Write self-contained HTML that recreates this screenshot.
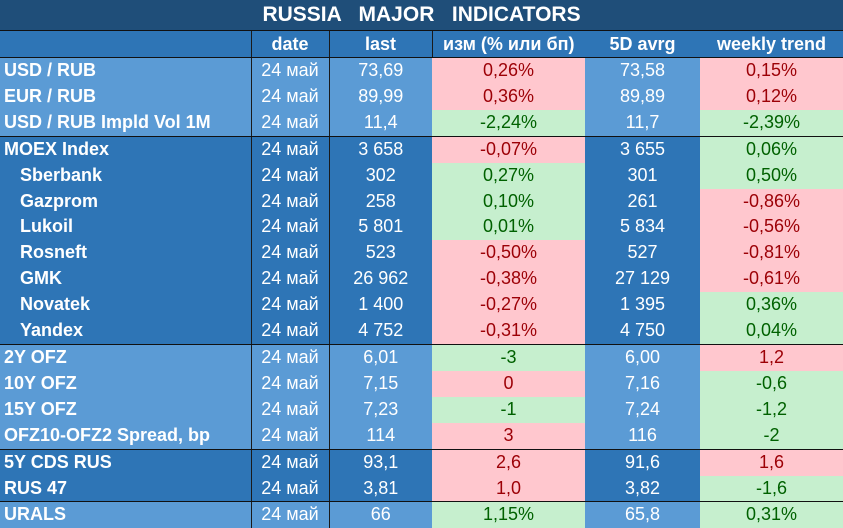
<!DOCTYPE html>
<html><head><meta charset="utf-8"><style>
body{margin:0;width:843px;height:524px;overflow:hidden;background:#fff;font-family:"Liberation Sans",sans-serif}
table{border-collapse:collapse;table-layout:fixed;width:843px;position:absolute;left:0;top:0}
td{padding:0;color:#fff;font-size:18px;text-align:center;white-space:nowrap;overflow:hidden;height:25.9px;line-height:25.9px}
td.l{text-align:left;font-weight:bold;padding-left:4px}
td.i{padding-left:20px}
td.d{border-left:1px solid #1a1a1a}
.t td{background:#1f4e79;font-weight:bold;font-size:21px;height:30px;line-height:30px;white-space:pre;border-bottom:1px solid #111}
.h td{background:#2e75b6;font-weight:bold;height:26px;line-height:26px;border-bottom:1px solid #111}
.a td{background:#5b9bd5}.b td{background:#2e75b6}
tr.e td{border-bottom:1.5px solid #111}
td.r{background:#ffc7ce!important;color:#9c0006}
td.g{background:#c6efce!important;color:#006100}
</style></head><body>
<table>
<colgroup><col style="width:251px"><col style="width:78px"><col style="width:103px"><col style="width:153px"><col style="width:115px"><col style="width:143px"></colgroup>
<tr class="t"><td colspan="6" style="padding-left:0">RUSSIA   MAJOR   INDICATORS</td></tr>
<tr class="h"><td></td><td class="d">date</td><td class="d">last</td><td class="d">изм (% или бп)</td><td>5D avrg</td><td>weekly trend</td></tr>
<tr class="a"><td class="l">USD / RUB</td><td class="d">24 май</td><td class="d">73,69</td><td class="r">0,26%</td><td>73,58</td><td class="r">0,15%</td></tr>
<tr class="a"><td class="l">EUR / RUB</td><td class="d">24 май</td><td class="d">89,99</td><td class="r">0,36%</td><td>89,89</td><td class="r">0,12%</td></tr>
<tr class="a e"><td class="l">USD / RUB Impld Vol 1M</td><td class="d">24 май</td><td class="d">11,4</td><td class="g">-2,24%</td><td>11,7</td><td class="g">-2,39%</td></tr>
<tr class="b"><td class="l">MOEX Index</td><td class="d">24 май</td><td class="d">3 658</td><td class="r">-0,07%</td><td>3 655</td><td class="g">0,06%</td></tr>
<tr class="b"><td class="l i">Sberbank</td><td class="d">24 май</td><td class="d">302</td><td class="g">0,27%</td><td>301</td><td class="g">0,50%</td></tr>
<tr class="b"><td class="l i">Gazprom</td><td class="d">24 май</td><td class="d">258</td><td class="g">0,10%</td><td>261</td><td class="r">-0,86%</td></tr>
<tr class="b"><td class="l i">Lukoil</td><td class="d">24 май</td><td class="d">5 801</td><td class="g">0,01%</td><td>5 834</td><td class="r">-0,56%</td></tr>
<tr class="b"><td class="l i">Rosneft</td><td class="d">24 май</td><td class="d">523</td><td class="r">-0,50%</td><td>527</td><td class="r">-0,81%</td></tr>
<tr class="b"><td class="l i">GMK</td><td class="d">24 май</td><td class="d">26 962</td><td class="r">-0,38%</td><td>27 129</td><td class="r">-0,61%</td></tr>
<tr class="b"><td class="l i">Novatek</td><td class="d">24 май</td><td class="d">1 400</td><td class="r">-0,27%</td><td>1 395</td><td class="g">0,36%</td></tr>
<tr class="b e"><td class="l i">Yandex</td><td class="d">24 май</td><td class="d">4 752</td><td class="r">-0,31%</td><td>4 750</td><td class="g">0,04%</td></tr>
<tr class="a"><td class="l">2Y OFZ</td><td class="d">24 май</td><td class="d">6,01</td><td class="g">-3</td><td>6,00</td><td class="r">1,2</td></tr>
<tr class="a"><td class="l">10Y OFZ</td><td class="d">24 май</td><td class="d">7,15</td><td class="r">0</td><td>7,16</td><td class="g">-0,6</td></tr>
<tr class="a"><td class="l">15Y OFZ</td><td class="d">24 май</td><td class="d">7,23</td><td class="g">-1</td><td>7,24</td><td class="g">-1,2</td></tr>
<tr class="a e"><td class="l">OFZ10-OFZ2 Spread, bp</td><td class="d">24 май</td><td class="d">114</td><td class="r">3</td><td>116</td><td class="g">-2</td></tr>
<tr class="b"><td class="l">5Y CDS RUS</td><td class="d">24 май</td><td class="d">93,1</td><td class="r">2,6</td><td>91,6</td><td class="r">1,6</td></tr>
<tr class="b e"><td class="l">RUS 47</td><td class="d">24 май</td><td class="d">3,81</td><td class="r">1,0</td><td>3,82</td><td class="g">-1,6</td></tr>
<tr class="a"><td class="l">URALS</td><td class="d">24 май</td><td class="d">66</td><td class="g">1,15%</td><td>65,8</td><td class="g">0,31%</td></tr>
</table>
</body></html>
